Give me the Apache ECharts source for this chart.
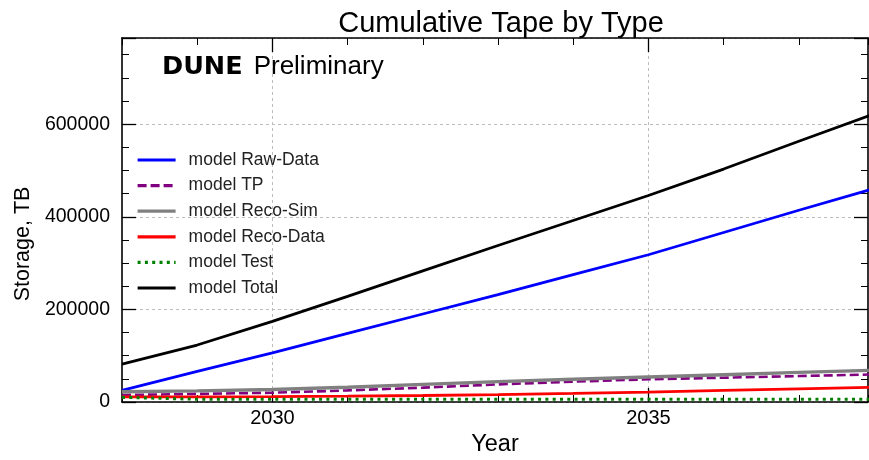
<!DOCTYPE html>
<html>
<head>
<meta charset="utf-8">
<script src="https://cdn.jsdelivr.net/npm/echarts@6/dist/echarts.min.js"></script>
<style>html,body{margin:0;padding:0;background:#fff}#c{width:869px;height:460px}</style>
</head>
<body>
<div id="c"></div>
<script>
const years = [2028, 2029, 2030, 2031, 2032, 2033, 2034, 2035, 2036, 2037, 2038];
const rawData  = [25000, 66000, 106000, 148000, 190000, 232000, 275000, 318000, 366000, 414000, 461000];
const tpData   = [15000, 17500, 20000, 25000, 31000, 38000, 44000, 49000, 52500, 56000, 59500];
const recoSim  = [22000, 24000, 27000, 32000, 38000, 44000, 49000, 54000, 59000, 64000, 68500];
const recoData = [11000, 11000, 11500, 12500, 14000, 16000, 18500, 21500, 25000, 28500, 32000];
const testData = [10000, 6000, 6000, 6000, 6000, 6000, 6000, 6000, 6000, 6000, 6000];
const totalData = [82000, 123000, 174000, 228000, 283000, 338000, 392000, 446000, 503000, 563000, 622000];
const majorYears = [2030, 2035];
const seriesNames = ['model Raw-Data', 'model TP', 'model Reco-Sim', 'model Reco-Data', 'model Test', 'model Total'];

const xMin = 2028, xMax = 2037.92, yMin = 0, yMax = 786000;
const FF = 'Liberation Sans, Arial, Helvetica, sans-serif';
const pairs = arr => years.map((y, i) => [y, arr[i]]);
const gridRect = {left: 122, right: 1, top: 38, bottom: 58, containLabel: false, outerBoundsMode: 'none'};
const spine = {show: true, onZero: false, lineStyle: {color: '#000', width: 1.6}};
const gridLine = {show: true, lineStyle: {type: [3, 3], color: '#bdbdbd', width: 1}};
const plain = v => String(Math.round(v));

const chart = echarts.init(document.getElementById('c'), null, {renderer: 'canvas'});
const mk = (name, data, color, width, type) => ({
  name, type: 'line', data: pairs(data), symbol: 'none', showSymbol: false,
  xAxisIndex: 0, yAxisIndex: 0, clip: true,
  lineStyle: {color, width, type: type || 'solid', cap: 'butt'},
  itemStyle: {color}
});

chart.setOption({
  animation: false,
  backgroundColor: '#fff',
  title: {
    text: 'Cumulative Tape by Type', left: 496, top: 4, textAlign: 'center',
    textStyle: {fontFamily: FF, fontSize: 29, fontWeight: 'normal', color: '#000'}
  },
  grid: [Object.assign({}, gridRect), Object.assign({}, gridRect)],
  legend: {
    orient: 'vertical', left: 136, top: 150, padding: 0,
    itemWidth: 38, itemHeight: 14, itemGap: 5.6,
    itemStyle: {opacity: 0},
    lineStyle: {width: 3.2},
    data: seriesNames,
    textStyle: {fontFamily: FF, fontSize: 17.5, color: '#222', lineHeight: 20, padding: [0, 0, 0, 8]}
  },
  graphic: [{
    type: 'text', left: 162, top: 54,
    style: {
      text: '{a|DUNE}{b|Preliminary}',
      rich: {
        a: {fontFamily: 'DejaVu Sans', fontWeight: 'bold', fontSize: 25.5, fill: '#000'},
        b: {fontFamily: FF, fontSize: 26, fill: '#000', padding: [0, 0, 0, 11]}
      }
    }
  }],
  xAxis: [
    {
      type: 'value', gridIndex: 0, position: 'bottom', min: xMin, max: xMax,
      axisLine: spine,
      axisTick: {show: true, inside: true, length: 14, customValues: majorYears, lineStyle: {color: '#000', width: 1.3}},
      axisLabel: {show: true, customValues: majorYears, formatter: plain, fontFamily: FF, fontSize: 20, color: '#000', margin: 6},
      splitLine: gridLine,
      name: 'Year', nameLocation: 'middle', nameGap: 31,
      nameTextStyle: {fontFamily: FF, fontSize: 23.5, color: '#000'}
    },
    {
      type: 'value', gridIndex: 0, position: 'top', min: xMin, max: xMax,
      axisLine: spine,
      axisTick: {show: true, inside: true, length: 14, customValues: majorYears, lineStyle: {color: '#000', width: 1.3}},
      axisLabel: {show: false}, splitLine: {show: false}
    },
    {
      type: 'value', gridIndex: 1, position: 'bottom', min: xMin, max: xMax, interval: 1,
      axisLine: {show: false},
      axisTick: {show: true, inside: true, length: 7, lineStyle: {color: '#000', width: 1}},
      axisLabel: {show: false}, splitLine: {show: false}
    },
    {
      type: 'value', gridIndex: 1, position: 'top', min: xMin, max: xMax, interval: 1,
      axisLine: {show: false},
      axisTick: {show: true, inside: true, length: 7, lineStyle: {color: '#000', width: 1}},
      axisLabel: {show: false}, splitLine: {show: false}
    }
  ],
  yAxis: [
    {
      type: 'value', gridIndex: 0, position: 'left', min: yMin, max: yMax, interval: 200000,
      axisLine: spine,
      axisTick: {show: true, inside: true, length: 14, lineStyle: {color: '#000', width: 1.3}},
      minorTick: {show: true, splitNumber: 4, length: 7, lineStyle: {color: '#000', width: 1}},
      axisLabel: {show: true, showMaxLabel: false, formatter: plain, fontFamily: FF, fontSize: 19.5, color: '#000', margin: 12},
      splitLine: gridLine,
      name: 'Storage, TB', nameLocation: 'middle', nameGap: 78,
      nameTextStyle: {fontFamily: FF, fontSize: 21.5, color: '#000', padding: [0, 48, 0, 0]}
    },
    {
      type: 'value', gridIndex: 0, position: 'right', min: yMin, max: yMax, interval: 200000,
      axisLine: spine,
      axisTick: {show: true, inside: true, length: 14, lineStyle: {color: '#000', width: 1.3}},
      minorTick: {show: true, splitNumber: 4, length: 7, lineStyle: {color: '#000', width: 1}},
      axisLabel: {show: false}, splitLine: {show: false}
    },
    {
      type: 'value', gridIndex: 1, min: yMin, max: yMax, show: false
    }
  ],
  series: [
    mk(seriesNames[0], rawData, '#0000ff', 2.8),
    mk(seriesNames[1], tpData, '#800080', 2.6, [9, 4]),
    mk(seriesNames[2], recoSim, '#808080', 3.4),
    mk(seriesNames[3], recoData, '#ff0000', 2.8),
    mk(seriesNames[4], testData, '#008000', 3, [3, 4.3]),
    mk(seriesNames[5], totalData, '#000000', 2.8)
  ]
});
</script>
</body>
</html>
